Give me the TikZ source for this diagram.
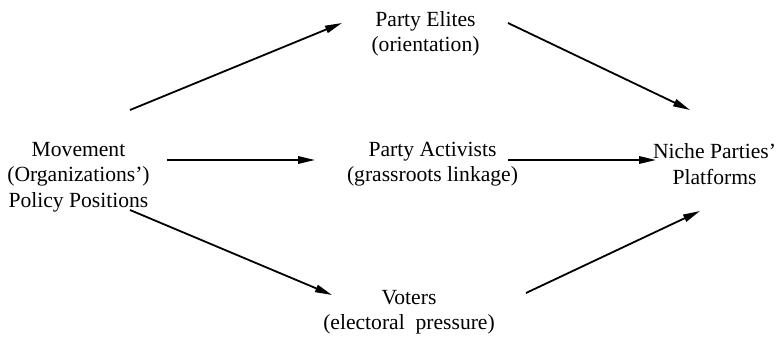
\documentclass[tikz,border=0pt]{standalone}
\usepackage{fontspec}
\setmainfont{Liberation Serif}
\usetikzlibrary{arrows.meta}
\begin{document}
\begin{tikzpicture}[x=1pt,y=1pt,
  lbl/.style={align=center,inner sep=0pt,font=\fontsize{21.6}{25.5}\selectfont},
  arr/.style={line width=1.8pt,-{Triangle[length=17pt,width=7.5pt]}}]
\useasboundingbox (0,0) rectangle (777,338);
\node[lbl] (mov) at (78.5,161) {Movement\\(Organizations’)\\Policy Positions};
\node[lbl] (eli) at (425.5,304) {Party Elites\\(orientation)};
\node[lbl] (act) at (432.5,174) {Party Activists\\(grassroots linkage)};
\node[lbl] (nic) at (714.5,174) {Niche Parties’\\Platforms};
\node[lbl] (vot) at (409,26) {Voters\\(electoral\ \ pressure)};
\coordinate (m1) at (130,228); \coordinate (e1) at (342,315);
\coordinate (m2) at (167,178); \coordinate (a1) at (315,178);
\coordinate (m3) at (130,128); \coordinate (v1) at (332,43);
\coordinate (e2) at (508,315); \coordinate (n1) at (690,228);
\coordinate (a2) at (508,178); \coordinate (n2) at (656,178);
\coordinate (v2) at (526,45);  \coordinate (n3) at (700,127);
\draw[arr] (m1) -- (e1);
\draw[arr] (m2) -- (a1);
\draw[arr] (m3) -- (v1);
\draw[arr] (e2) -- (n1);
\draw[arr] (a2) -- (n2);
\draw[arr] (v2) -- (n3);
\end{tikzpicture}
\end{document}
